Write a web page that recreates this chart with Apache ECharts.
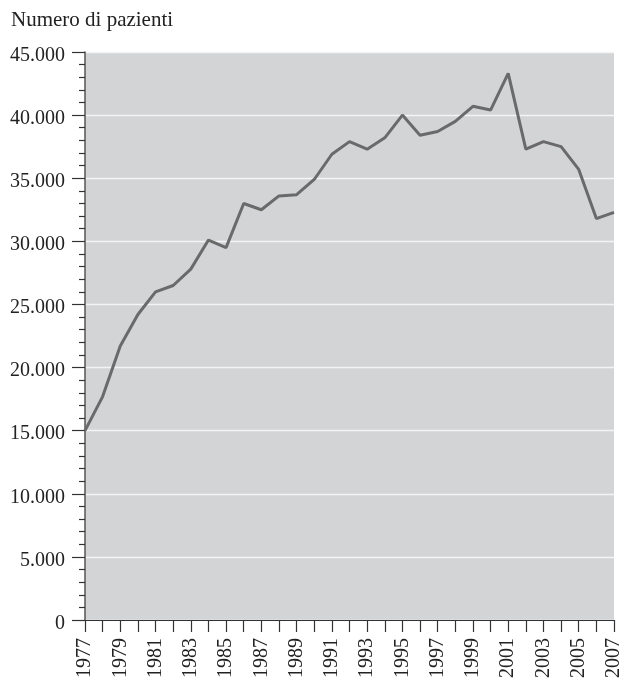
<!DOCTYPE html>
<html>
<head>
<meta charset="utf-8">
<script src="https://cdn.jsdelivr.net/npm/echarts@6/dist/echarts.min.js"></script>
<style>html,body{margin:0;padding:0;background:#fff}#c{width:630px;height:679px}</style>
</head>
<body>
<div id="c"></div>
<script>
const years = ['1977','1978','1979','1980','1981','1982','1983','1984','1985','1986','1987','1988','1989','1990','1991','1992','1993','1994','1995','1996','1997','1998','1999','2000','2001','2002','2003','2004','2005','2006','2007'];
const patients = [15000,17700,21700,24200,26000,26500,27800,30100,29500,33000,32500,33600,33700,34900,36900,37900,37300,38200,40000,38400,38700,39500,40700,40400,43300,37300,37900,37500,35700,31800,32300];
const yTitle = 'Numero di pazienti';

const font = '"Liberation Serif", "DejaVu Serif", serif';
const chart = echarts.init(document.getElementById('c'), null, {renderer: 'canvas'});
function fmt(v){ return '{a|' + String(v).replace(/\B(?=(\d{3})+(?!\d))/g, '.') + '}'; }
chart.setOption({
  animation: false,
  title: {
    text: yTitle, left: 11, top: 10, padding: 0,
    textStyle: {fontFamily: font, fontSize: 21, fontWeight: 'normal', color: '#222'}
  },
  grid: {
    left: 85, right: 16, top: 52, bottom: 59,
    outerBoundsMode: 'none', containLabel: false,
    show: true, backgroundColor: '#d3d4d6', borderWidth: 0
  },
  xAxis: {
    type: 'category', data: years, boundaryGap: false,
    axisLine: {show: true, lineStyle: {color: '#333', width: 1.2}},
    axisTick: {show: true, interval: 0, length: 12, lineStyle: {color: '#333', width: 1.2}},
    axisLabel: {interval: 1, rotate: 90, margin: 18, fontFamily: font, fontSize: 20, color: '#222', hideOverlap: false},
    splitLine: {show: false}
  },
  yAxis: {
    type: 'value', min: 0, max: 45000, interval: 5000,
    axisLine: {show: true, lineStyle: {color: '#555', width: 1.5}},
    axisTick: {show: true, length: 13, lineStyle: {color: '#333', width: 1.2}},
    minorTick: {show: true, splitNumber: 5, length: 6, lineStyle: {color: '#333', width: 1.2}},
    axisLabel: {
      margin: 20, formatter: fmt,
      rich: {a: {fontFamily: font, fontSize: 20, color: '#222', padding: [7, 0, 0, 0]}}
    },
    splitLine: {show: true, lineStyle: {color: '#f4f4f4', width: 1.3}}
  },
  series: [{
    type: 'line', data: patients, symbol: 'none',
    lineStyle: {color: '#6a6a6a', width: 3}
  }]
});
</script>
</body>
</html>
